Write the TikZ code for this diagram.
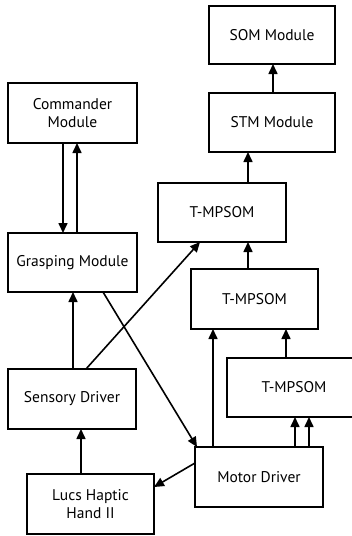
\documentclass[tikz,border=0pt]{standalone}
\usepackage{fontspec}
\setmainfont{PT Sans}
\usetikzlibrary{arrows.meta}
\begin{document}
\begin{tikzpicture}[x=1pt,y=-1pt,
  box/.style={draw=black, line width=1.7pt, inner sep=0pt, outer sep=0pt, align=center,
    font=\fontsize{15.5}{18}\selectfont},
  conn/.style={line width=1.6pt, -{Triangle[length=10pt,width=9pt]}}]
\useasboundingbox (0,0) rectangle (352,536);
\node[box, minimum width=126, minimum height=58] (som) at (272,35) {SOM Module};
\node[box, minimum width=126, minimum height=59] (stm) at (272,122.5) {STM Module};
\node[box, minimum width=129, minimum height=60] (cmd) at (72.5,113) {Commander\\ Module};
\node[box, minimum width=129, minimum height=59] (grasp) at (72.5,262.5) {Grasping Module};
\node[box, minimum width=128, minimum height=59] (t1) at (222,212.5) {T-MPSOM};
\node[box, minimum width=127, minimum height=60] (t2) at (254.5,299) {T-MPSOM};
\node[box, minimum width=134, minimum height=59] (t3) at (294,387.5) {T-MPSOM};
\node[box, minimum width=128, minimum height=60] (sens) at (72,399) {Sensory Driver};
\node[box, minimum width=128, minimum height=60] (motor) at (259,477) {Motor Driver};
\node[box, minimum width=127, minimum height=60] (lucs) at (90.5,504) {Lucs Haptic\\ Hand II};
% connectors
\draw[conn] (stm.north -| 273,0) -- (som.south -| 273,0);
\draw[conn] (cmd.south -| 63,0) -- (grasp.north -| 63,0);
\draw[conn] (grasp.north -| 77,0) -- (cmd.south -| 77,0);
\draw[conn] (t1.north -| 248,0) -- (stm.south -| 248,0);
\draw[conn] (t2.north -| 248,0) -- (t1.south -| 248,0);
\draw[conn] (t3.north -| 286,0) -- (t2.south -| 286,0);
\draw[conn] (sens.north -| 73,0) -- (grasp.south -| 73,0);
\draw[conn] (sens.north -| 86,0) -- (t1.south -| 200,0);
\draw[conn] (grasp.south -| 103,0) -- (motor.north -| 197,0);
\draw[conn] (motor.north -| 213,0) -- (t2.south -| 213,0);
\draw[conn] (motor.north -| 295,0) -- (t3.south -| 295,0);
\draw[conn] (motor.north -| 309,0) -- (t3.south -| 309,0);
\draw[conn] (motor.west |- 0,463) -- (lucs.east |- 0,487);
\draw[conn] (lucs.north -| 81,0) -- (sens.south -| 81,0);
\end{tikzpicture}
\end{document}
